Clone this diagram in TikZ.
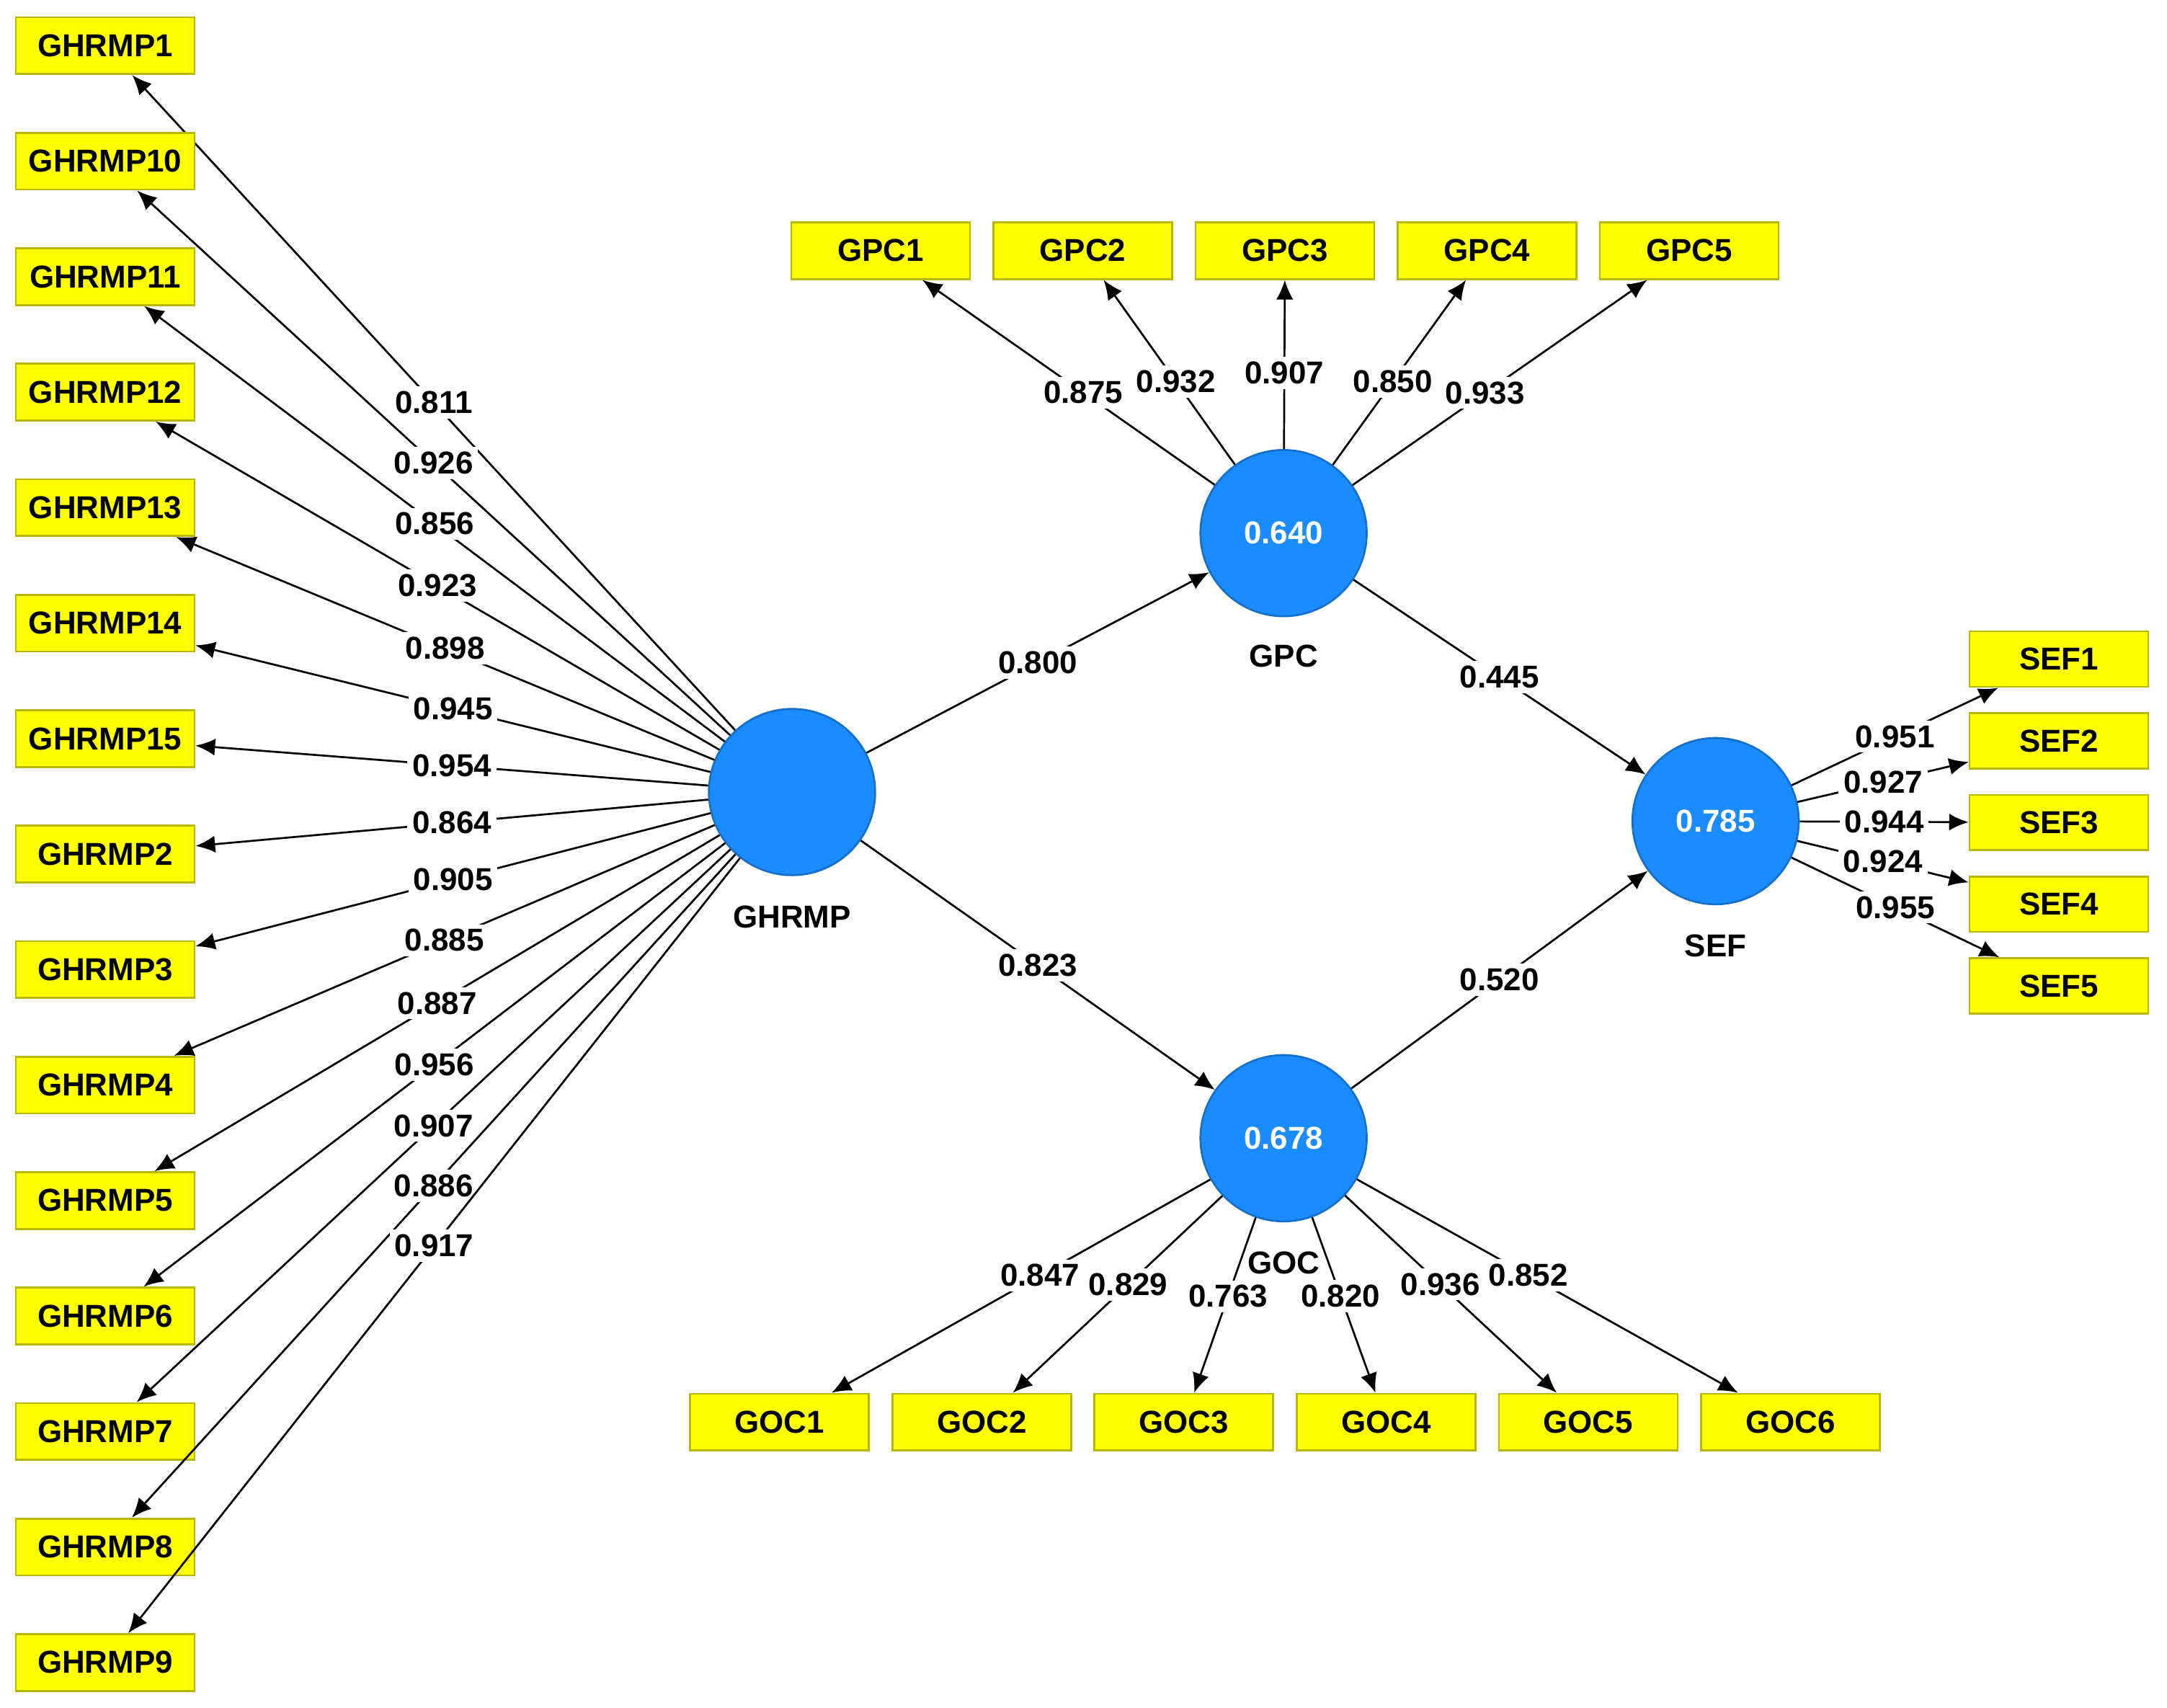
\documentclass[tikz,border=0pt]{standalone}
\usepackage{fontspec}
\setmainfont{Liberation Sans}
\usetikzlibrary{arrows.meta}
\definecolor{boxyellow}{HTML}{FFFF00}
\definecolor{boxedge}{HTML}{B8B800}
\definecolor{lvblue}{HTML}{1A8CFF}
\tikzset{
  ind/.style={rectangle, draw=boxedge, fill=boxyellow, minimum width=1.29cm, minimum height=0.41cm, inner sep=0pt, font=\fontsize{6.5}{7}\selectfont\bfseries},
  lv/.style={circle, draw=lvblue!80!black, fill=lvblue, minimum size=1.2cm, inner sep=0pt, text=white, font=\fontsize{6.5}{7}\selectfont\bfseries},
  lvname/.style={font=\fontsize{6.5}{7}\selectfont\bfseries},
  lbl/.style={fill=white, inner sep=1pt, font=\fontsize{6.5}{7}\selectfont\bfseries},
  load/.style={-{Latex[length=4pt,width=3.5pt]}, line width=0.4pt},
}
\begin{document}
\begin{tikzpicture}[x=0.01cm, y=-0.01cm]
        \useasboundingbox (0,0) rectangle (1565,1233);
        % latent variables
        \node[lv] (ghrmp) at (572,572) {};
        \node[lv] (gpc) at (927,385) {0.640};
        \node[lv] (goc) at (927,822) {0.678};
        \node[lv] (sef) at (1239,593) {0.785};
        \node[lvname] (ghrmpname) at (572,662) {GHRMP};
        \node[lvname] (gpcname) at (927,474) {GPC};
        \node[lvname] (gocname) at (927,912) {GOC};
        \node[lvname] (sefname) at (1239,683) {SEF};

        % GHRMP indicators
        \foreach \n/\v [count=\i from 0] in {1/0.811,10/0.926,11/0.856,12/0.923,13/0.898,14/0.945,15/0.954,2/0.864,3/0.905,4/0.885,5/0.887,6/0.956,7/0.907,8/0.886,9/0.917} {
          \node[ind] (ghrmp\n) at (76,33+83.4*\i) {GHRMP\n};
          \draw[load] (ghrmp) -- node[lbl, pos=0.5] {\v} (ghrmp\n);
        }

        % GPC indicators
        \foreach \v [count=\i] in {0.875,0.932,0.907,0.850,0.933} {
          \node[ind] (gpc\i) at (490+146*\i,181) {GPC\i};
          \draw[load] (gpc) -- node[lbl, pos=0.45] {\v} (gpc\i);
        }

        % GOC indicators
        \foreach \v [count=\i] in {0.847,0.829,0.763,0.820,0.936,0.852} {
          \node[ind] (goc\i) at (417+146*\i,1027) {GOC\i};
          \draw[load] (goc) -- node[lbl, pos=0.45] {\v} (goc\i);
        }

        % SEF indicators
        \foreach \v [count=\i] in {0.951,0.927,0.944,0.924,0.955} {
          \node[ind, minimum height=0.4cm] (sef\i) at (1487,417+59*\i) {SEF\i};
          \draw[load] (sef) -- node[lbl, pos=0.5] {\v} (sef\i);
        }

        % structural paths
        \draw[load] (ghrmp) -- node[lbl] {0.800} (gpc);
        \draw[load] (ghrmp) -- node[lbl] {0.823} (goc);
        \draw[load] (gpc) -- node[lbl] {0.445} (sef);
        \draw[load] (goc) -- node[lbl] {0.520} (sef);
\end{tikzpicture}
\end{document}
